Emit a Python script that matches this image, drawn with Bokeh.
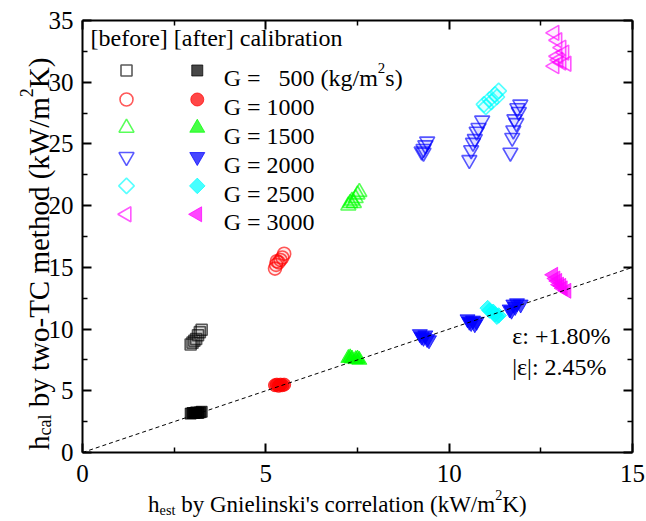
import math
from bokeh.plotting import figure
from bokeh.models import Range1d, FixedTicker, LinearAxis, Label
from bokeh.embed import file_html
from bokeh.resources import INLINE

# ---- measured heat transfer coefficients (kW/m^2K) ----
# h_est (Gnielinski) vs h_cal (two-TC method), before and after calibration
g500_est_before = [2.95, 3.00, 3.05, 3.10, 3.15, 3.20, 3.25]
g500_cal_before = [8.75, 8.90, 9.05, 9.20, 9.50, 9.75, 9.95]
g500_est_after = [2.95, 3.00, 3.05, 3.10, 3.15, 3.20, 3.25]
g500_cal_after = [3.15, 3.20, 3.20, 3.25, 3.20, 3.25, 3.30]

g1000_est_before = [5.25, 5.28, 5.35, 5.40, 5.45, 5.50, 5.30]
g1000_cal_before = [14.9, 15.2, 15.4, 15.6, 15.8, 16.1, 15.5]
g1000_est_after = [5.25, 5.30, 5.35, 5.40, 5.45, 5.50]
g1000_cal_after = [5.45, 5.50, 5.40, 5.50, 5.45, 5.50]

g1500_est_before = [7.25, 7.30, 7.35, 7.40, 7.45, 7.50, 7.55]
g1500_cal_before = [20.0, 20.2, 20.4, 20.2, 20.6, 20.9, 21.1]
g1500_est_after = [7.25, 7.30, 7.35, 7.45, 7.50, 7.55]
g1500_cal_after = [7.65, 7.70, 7.60, 7.55, 7.60, 7.50]

g2000_est_before = [9.25, 9.30, 9.35, 9.40, 9.30,
                    10.55, 10.60, 10.65, 10.70, 10.75, 10.80, 10.90,
                    11.67, 11.72, 11.75, 11.78, 11.83, 11.86, 11.90, 11.94]
g2000_cal_before = [24.4, 24.6, 24.9, 25.2, 24.3,
                    23.7, 24.5, 25.1, 25.4, 26.0, 26.3, 26.9,
                    24.3, 25.5, 26.1, 27.0, 26.7, 27.9, 27.6, 28.2]
g2000_est_after = [9.20, 9.25, 9.30, 9.35, 9.40, 9.45,
                   10.50, 10.55, 10.60, 10.65, 10.70, 10.75,
                   11.65, 11.70, 11.75, 11.80, 11.85, 11.95]
g2000_cal_after = [9.6, 9.4, 9.3, 9.5, 9.2, 9.1,
                   10.8, 10.6, 10.5, 10.7, 10.4, 10.6,
                   11.6, 11.5, 12.0, 11.8, 12.1, 12.0]

g2500_est_before = [10.95, 11.00, 11.10, 11.15, 11.25, 11.30, 11.35]
g2500_cal_before = [28.2, 28.0, 28.6, 28.4, 29.0, 28.8, 29.3]
g2500_est_after = [11.05, 11.10, 11.20, 11.25, 11.30, 11.35]
g2500_cal_after = [11.7, 11.5, 11.4, 11.2, 11.0, 11.1]

g3000_est_before = [12.87, 12.95, 13.06, 13.14, 12.95, 13.06, 12.87, 13.20, 12.98]
g3000_cal_before = [34.0, 33.4, 32.8, 32.4, 32.1, 31.6, 31.3, 31.5, 31.8]
g3000_est_after = [12.84, 12.90, 12.95, 13.00, 13.06, 13.10, 13.20]
g3000_cal_after = [14.4, 14.1, 13.9, 13.6, 13.5, 13.3, 13.1]

# parity line h_cal = h_est
parity_x = [0, 15]
parity_y = [0, 15]

x_ticks = [0, 5, 10, 15]
x_minor = [2.5, 7.5, 12.5]
y_ticks = [0, 5, 10, 15, 20, 25, 30, 35]
y_minor = [2.5, 7.5, 12.5, 17.5, 22.5, 27.5, 32.5]
x_lim = (0, 15)
y_lim = (0, 35)

mean_dev_text = "ε: +1.80%"
abs_dev_text = "|ε|: 2.45%"

FONT = "Liberation Serif"

series = [
    ("500", "#000000", "square", 0.0, 11, g500_est_before, g500_cal_before, g500_est_after, g500_cal_after),
    ("1000", "#ff0000", "circle", 0.0, 13, g1000_est_before, g1000_cal_before, g1000_est_after, g1000_cal_after),
    ("1500", "#00ff00", "triangle", 0.0, 15, g1500_est_before, g1500_cal_before, g1500_est_after, g1500_cal_after),
    ("2000", "#0000ff", "inverted_triangle", 0.0, 15, g2000_est_before, g2000_cal_before, g2000_est_after, g2000_cal_after),
    ("2500", "#00ffff", "square", math.pi / 4, 11, g2500_est_before, g2500_cal_before, g2500_est_after, g2500_cal_after),
    ("3000", "#ff00ff", "triangle", math.pi / 2, 15, g3000_est_before, g3000_cal_before, g3000_est_after, g3000_cal_after),
]

# The drawing area spans the whole canvas; the axes sit at fixed data
# locations so the titles (with sub/superscripts) can live in the margins.
W, H = 646, 521
PAD_L, PAD_R, PAD_T, PAD_B = 82, 14, 20, 69
sx = (x_lim[1] - x_lim[0]) / (W - PAD_L - PAD_R)
sy = (y_lim[1] - y_lim[0]) / (H - PAD_T - PAD_B)
x_range = Range1d(x_lim[0] - PAD_L * sx, x_lim[1] + PAD_R * sx)
y_range = Range1d(y_lim[0] - PAD_B * sy, y_lim[1] + PAD_T * sy)

p = figure(width=W, height=H, x_range=x_range, y_range=y_range,
           output_backend="svg", toolbar_location=None,
           min_border=0, min_border_left=0, min_border_right=0,
           min_border_top=0, min_border_bottom=0)
p.grid.visible = False
p.outline_line_color = None
p.background_fill_color = "white"
p.border_fill_color = "white"
p.xaxis.visible = False
p.yaxis.visible = False


def make_axis(ticks, minor, loc, bounds, show_labels=True, standoff=9):
    ax = LinearAxis(fixed_location=loc, bounds=bounds)
    ax.ticker = FixedTicker(ticks=ticks, minor_ticks=minor)
    ax.major_tick_in = 9
    ax.major_tick_out = 0
    ax.minor_tick_in = 5
    ax.minor_tick_out = 0
    ax.axis_line_width = 2
    ax.major_tick_line_width = 2
    ax.minor_tick_line_width = 1.5
    ax.major_label_text_font = FONT
    ax.major_label_text_font_size = "25px"
    ax.major_label_text_color = "black"
    ax.major_label_standoff = standoff
    if not show_labels:
        ax.major_label_overrides = {t: "" for t in ticks}
    return ax


p.add_layout(make_axis(x_ticks, x_minor, y_lim[0], x_lim, standoff=12), "below")
p.add_layout(make_axis(y_ticks, y_minor, x_lim[0], y_lim), "left")
p.add_layout(make_axis(x_ticks, x_minor, y_lim[1], x_lim, show_labels=False), "above")
p.add_layout(make_axis(y_ticks, y_minor, x_lim[1], y_lim, show_labels=False), "right")

# data markers: open = before calibration, filled = after calibration
for name, color, marker, ang, size, xb, yb, xa, ya in series:
    p.scatter(xb, yb, marker=marker, angle=ang, size=size, line_color=color, line_alpha=0.65,
              line_width=1.6, fill_color=color, fill_alpha=0.07)
    p.scatter(xa, ya, marker=marker, angle=ang, size=size, line_color=color, line_alpha=0.72,
              line_width=1, fill_color=color, fill_alpha=0.72)

p.line(parity_x, parity_y, line_color="black", line_width=1, line_dash="4 3")

# ---- text helpers (Times-metric widths, per 1000 em) ----
TNR = {" ": 250, "'": 180, "(": 333, ")": 333, "-": 333, "/": 278, ":": 278, "=": 564,
       "+": 564, "%": 833, ".": 250, "C": 667, "G": 722, "K": 722, "T": 611, "W": 944,
       "a": 444, "b": 500, "c": 444, "d": 500, "e": 444, "f": 333, "g": 500, "h": 500,
       "i": 278, "k": 500, "l": 278, "m": 778, "n": 500, "o": 500, "r": 333, "s": 389,
       "t": 278, "w": 722, "y": 500, "[": 333, "]": 333, "|": 200, "\u2007": 500}


def text_w(s, size):
    return sum(TNR.get(ch, 500) for ch in s) * size / 1000.0


def rich_label(parts, x, y, size, vertical=False, centered=True, base_shift=0.0):
    """Lay out text runs (normal / sub / sup) one after another along a baseline."""
    small = size * 0.62
    sizes = [size if k == "n" else small for _, k in parts]
    widths = [text_w(t, s) for (t, _), s in zip(parts, sizes)]
    pos = -sum(widths) / 2 if centered else 0.0
    for (t, k), s, w in zip(parts, sizes, widths):
        lead = len(t) - len(t.lstrip(" "))
        start = pos + text_w(" " * lead, s)
        run = t.lstrip(" ")
        up = {"n": 0.0, "sub": -0.22 * size, "sup": 0.42 * size}[k] + base_shift
        if vertical:
            lab = Label(x=x, y=y, x_offset=-up, y_offset=start, text=run, angle=math.pi / 2,
                        text_font=FONT, text_font_size=f"{s:.1f}px", text_color="black",
                        text_align="left", text_baseline="alphabetic")
        else:
            lab = Label(x=x, y=y, x_offset=start, y_offset=up, text=run,
                        text_font=FONT, text_font_size=f"{s:.1f}px", text_color="black",
                        text_align="left", text_baseline="alphabetic")
        p.add_layout(lab)
        pos += w


# axis titles
rich_label([("h", "n"), ("est", "sub"), (" by Gnielinski's correlation (kW/m", "n"),
            ("2", "sup"), ("K)", "n")], 6.95, -4.25, 23)
rich_label([("h", "n"), ("cal", "sub"), (" by two-TC method (kW/m", "n"),
            ("2", "sup"), ("K)", "n")], -1.2, 16.1, 29, vertical=True)

# legend block
leg_open_x, leg_fill_x, leg_text_x = 1.2, 3.13, 3.85
leg_y = [30.95, 28.6, 26.3, 23.95, 21.6, 19.3]
p.add_layout(Label(x=0.22, y=33.55, text="[before] [after] calibration", text_font=FONT,
                   text_font_size="24px", text_color="black",
                   text_baseline="middle", text_align="left"))
for (name, color, marker, ang, size, *_), ly in zip(series, leg_y):
    p.scatter([leg_open_x], [ly], marker=marker, angle=ang, size=size, line_color=color,
              line_alpha=0.65, line_width=1.6, fill_color="white", fill_alpha=1)
    p.scatter([leg_fill_x], [ly], marker=marker, angle=ang, size=size, line_color=color,
              line_alpha=0.72, line_width=1, fill_color=color, fill_alpha=0.72)
    if name == "500":
        parts = [("G = \u2007" + name + " (kg/m", "n"), ("2", "sup"), ("s)", "n")]
    else:
        parts = [("G = " + name, "n")]
    rich_label(parts, leg_text_x, ly, 24, centered=False, base_shift=-8)

# deviation statistics
p.add_layout(Label(x=11.72, y=9.4, text=mean_dev_text, text_font=FONT, text_font_size="24px",
                   text_color="black", text_baseline="middle", text_align="left"))
p.add_layout(Label(x=11.72, y=6.89, text=abs_dev_text, text_font=FONT, text_font_size="24px",
                   text_color="black", text_baseline="middle", text_align="left"))

open("out.html", "w").write(file_html(p, INLINE))
